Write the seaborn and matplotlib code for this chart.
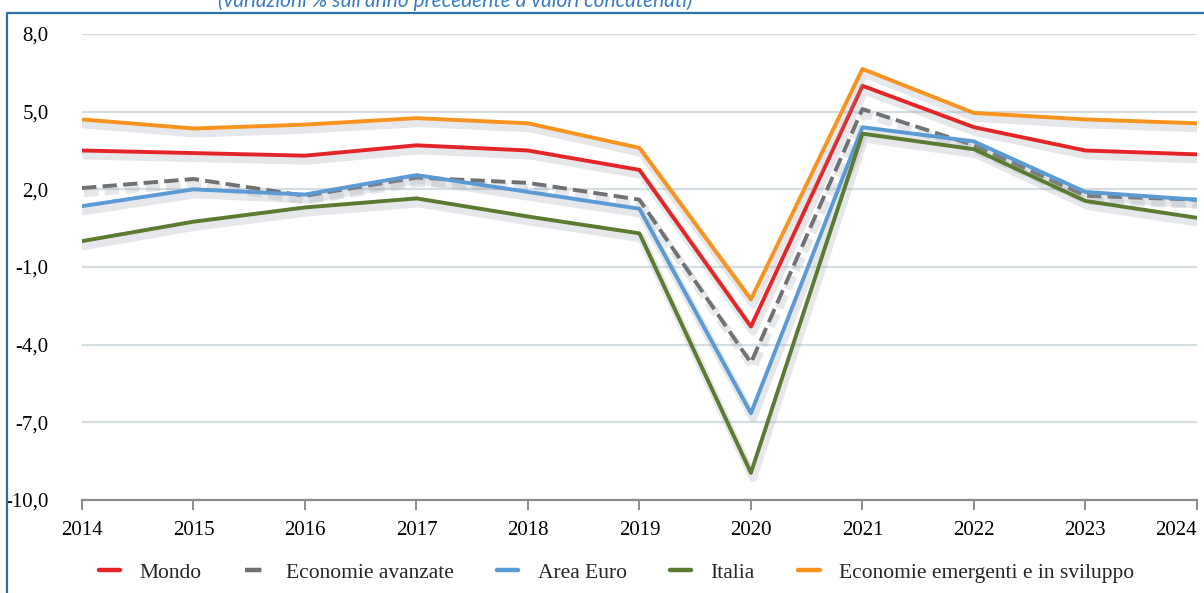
import numpy as np
import pandas as pd
import matplotlib
matplotlib.use("Agg")
import matplotlib.pyplot as plt
import matplotlib.patheffects as pe
from matplotlib.lines import Line2D
import seaborn as sns

#### data ####
years = [2014, 2015, 2016, 2017, 2018, 2019, 2020, 2021, 2022, 2023, 2024]
mondo = [3.5, 3.4, 3.3, 3.7, 3.5, 2.75, -3.3, 6.0, 4.4, 3.5, 3.35]
avanzate = [2.05, 2.4, 1.75, 2.45, 2.25, 1.6, -4.7, 5.1, 3.7, 1.75, 1.6]
area_euro = [1.35, 2.0, 1.8, 2.55, 1.9, 1.25, -6.65, 4.4, 3.85, 1.9, 1.6]
italia = [0.0, 0.75, 1.3, 1.65, 0.95, 0.3, -8.95, 4.15, 3.55, 1.55, 0.9]
emergenti = [4.7, 4.35, 4.5, 4.75, 4.55, 3.6, -2.25, 6.65, 4.95, 4.7, 4.55]

series_names = ["Mondo", "Economie avanzate", "Area Euro", "Italia",
                "Economie emergenti e in sviluppo"]
series_vals = [mondo, avanzate, area_euro, italia, emergenti]
colors = ["#E42527", "#707173", "#5A9BD5", "#5B7B31", "#F7931E"]
styles = ["-", "--", "-", "-", "-"]

yticks = [8, 5, 2, -1, -4, -7, -10]

#### figure ####
sns.set_theme(style="white")
plt.rcParams["font.family"] = ["Liberation Serif", "DejaVu Serif"]

fig = plt.figure(figsize=(12.04, 5.93), dpi=100)
ax = fig.add_axes([0.0681, 0.1568, 0.926, 0.7859])

for name, vals, col, ls in zip(series_names, series_vals, colors, styles):
    df = pd.DataFrame({"anno": years, "valore": vals})
    sns.lineplot(data=df, x="anno", y="valore", ax=ax, color=col,
                 linestyle=ls, linewidth=2.8, label=name, legend=False)

# soft drop shadow like the original
for line in ax.lines:
    line.set_path_effects([
        pe.SimpleLineShadow(offset=(1.5, -3.5), shadow_color="#9aa3ad", alpha=0.25, linewidth=6),
        pe.Normal()])

ax.set_xlim(2014, 2024)
ax.set_ylim(-10, 8)
ax.set_yticks(yticks)
ax.set_yticklabels([f"{v:.1f}".replace(".", ",") for v in yticks], fontsize=15)
ax.set_xticks(years)
ax.set_xticklabels([str(y) for y in years], fontsize=15)
ax.get_xticklabels()[-1].set_horizontalalignment("right")
ax.set_xlabel("")
ax.set_ylabel("")

ax.grid(axis="y", color="#d5dde2", linewidth=1.6)
ax.grid(axis="x", visible=False)
ax.set_axisbelow(True)
for s in ["top", "right", "left"]:
    ax.spines[s].set_visible(False)
ax.spines["bottom"].set_color("#8c8c8c")
ax.spines["bottom"].set_linewidth(1.6)
ax.tick_params(axis="x", direction="out", length=7, width=1.4, color="#8c8c8c",
               bottom=True, pad=8, labelcolor="black")
ax.tick_params(axis="y", length=0, pad=24, labelcolor="black")

# legend with plain handles
handles = [Line2D([0], [0], color=c, linestyle=ls, linewidth=3.2)
           for c, ls in zip(colors, styles)]
fig.legend(handles, series_names, loc="center", bbox_to_anchor=(0.512, 0.034),
           ncol=5, frameon=False, fontsize=15.5, handlelength=1.0,
           columnspacing=2.0, handletextpad=0.9)

# blue frame of the box and cut-off subtitle
fig.add_artist(Line2D([7 / 1204, 7 / 1204], [0, 1 - 13 / 593], color="#2F6FA7", linewidth=1.6))
fig.add_artist(Line2D([7 / 1204, 1], [1 - 13 / 593, 1 - 13 / 593], color="#2F6FA7", linewidth=1.6))
fig.text(0.378, 0.999, "(variazioni % sull'anno precedente a valori concatenati)",
         ha="center", va="center", fontsize=15, style="italic", color="#3B7DC4",
         family=["Lato", "DejaVu Sans"])

fig.savefig("out.png", dpi=100)
